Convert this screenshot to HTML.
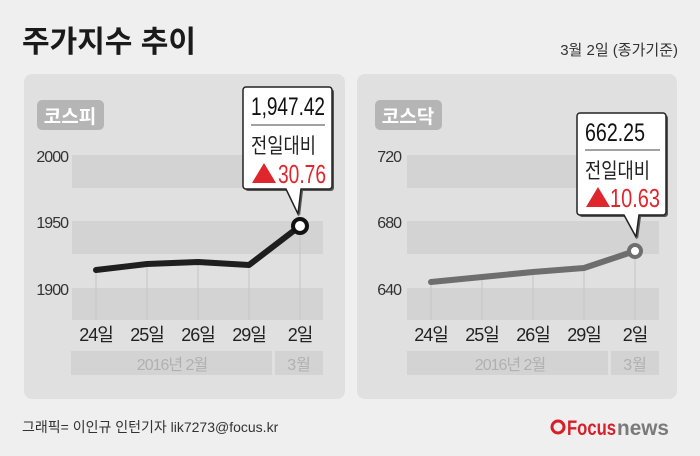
<!DOCTYPE html>
<html><head><meta charset="utf-8"><style>
body{margin:0;background:#efefef;}
svg text{font-family:"Liberation Sans","Noto Sans CJK KR",sans-serif;}
</style></head><body>
<svg width="700" height="451" viewBox="0 0 700 451" xmlns="http://www.w3.org/2000/svg">
<rect width="700" height="451" fill="#efefef"/>
<text x="22" y="52" font-size="30" font-weight="bold" fill="#1a1a1a">주가지수 추이</text>
<text x="678" y="55" font-size="15" fill="#333" text-anchor="end">3월 2일 (종가기준)</text>

<!-- panel 1 -->
<rect x="24" y="74" width="321" height="325" rx="8" fill="#e0e0e0"/>
<rect x="37" y="100" width="67" height="30" rx="5" fill="#b5b5b5"/>
<text x="70" y="123" font-size="19" font-weight="bold" fill="#fff" text-anchor="middle">코스피</text>
<g fill="#d3d3d3">
<rect x="72" y="155" width="251" height="33"/><rect x="72" y="221" width="251" height="33"/><rect x="72" y="288" width="251" height="32"/>
<rect x="71" y="351" width="201" height="24"/><rect x="275" y="351" width="48" height="24"/>
</g>
<g stroke="#c4c4c4" stroke-width="1"><line x1="96" y1="270" x2="96" y2="320"/><line x1="147" y1="264" x2="147" y2="320"/><line x1="198" y1="262" x2="198" y2="320"/><line x1="249" y1="265" x2="249" y2="320"/><line x1="300" y1="226" x2="300" y2="320"/></g>
<g font-size="16" fill="#333" text-anchor="end" letter-spacing="-1"><text x="68" y="162">2000</text><text x="68" y="228">1950</text><text x="68" y="295">1900</text></g>
<g font-size="18" fill="#222" text-anchor="middle" letter-spacing="-1"><text x="96" y="341">24일</text><text x="147" y="341">25일</text><text x="198" y="341">26일</text><text x="249" y="341">29일</text><text x="300" y="341">2일</text></g>
<text x="172" y="370" font-size="16" fill="#b0b0b0" text-anchor="middle" letter-spacing="-1">2016년 2월</text>
<text x="299" y="370" font-size="16" fill="#b0b0b0" text-anchor="middle">3월</text>
<polyline points="96,270 147,264 198,262 249,265 300,226" fill="none" stroke="#1e1e1e" stroke-width="6" stroke-linejoin="round" stroke-linecap="round"/>
<circle cx="300" cy="226" r="7" fill="#fff" stroke="#111" stroke-width="4"/>
<path d="M246,87 h83 a3,3 0 0 1 3,3 v96 a3,3 0 0 1 -3,3 h-28 l-3,25 l-12,-25 h-40 a3,3 0 0 1 -3,-3 v-96 a3,3 0 0 1 3,-3 z" fill="#555" transform="translate(2,2)"/>
<path d="M246,87 h83 a3,3 0 0 1 3,3 v96 a3,3 0 0 1 -3,3 h-28 l-3,25 l-12,-25 h-40 a3,3 0 0 1 -3,-3 v-96 a3,3 0 0 1 3,-3 z" fill="#fff" stroke="#222" stroke-width="1.5"/>
<text x="251" y="115" font-size="25" fill="#111" textLength="74" lengthAdjust="spacingAndGlyphs">1,947.42</text>
<line x1="251" y1="125" x2="325" y2="125" stroke="#444" stroke-width="1"/>
<text x="251" y="153" font-size="21" fill="#222" textLength="65" lengthAdjust="spacingAndGlyphs">전일대비</text>
<polygon points="252,183 264,163 276,183" fill="#e0262d"/>
<text x="278" y="183" font-size="26" fill="#e0262d" textLength="48" lengthAdjust="spacingAndGlyphs">30.76</text>

<!-- panel 2 -->
<rect x="357" y="74" width="320" height="325" rx="8" fill="#e0e0e0"/>
<rect x="375" y="100" width="67" height="30" rx="5" fill="#b5b5b5"/>
<text x="408" y="123" font-size="19" font-weight="bold" fill="#fff" text-anchor="middle">코스닥</text>
<g fill="#d3d3d3">
<rect x="407" y="155" width="252" height="33"/><rect x="407" y="221" width="252" height="33"/><rect x="407" y="288" width="252" height="32"/>
<rect x="407" y="351" width="201" height="24"/><rect x="611" y="351" width="48" height="24"/>
</g>
<g stroke="#c4c4c4" stroke-width="1"><line x1="431" y1="282" x2="431" y2="320"/><line x1="482" y1="276" x2="482" y2="320"/><line x1="533" y1="272" x2="533" y2="320"/><line x1="584" y1="268" x2="584" y2="320"/><line x1="635" y1="251" x2="635" y2="320"/></g>
<g font-size="16" fill="#333" text-anchor="end" letter-spacing="-1"><text x="401" y="162">720</text><text x="401" y="228">680</text><text x="401" y="295">640</text></g>
<g font-size="18" fill="#222" text-anchor="middle" letter-spacing="-1"><text x="431" y="341">24일</text><text x="482" y="341">25일</text><text x="533" y="341">26일</text><text x="584" y="341">29일</text><text x="635" y="341">2일</text></g>
<text x="510" y="370" font-size="16" fill="#b0b0b0" text-anchor="middle" letter-spacing="-1">2016년 2월</text>
<text x="635" y="370" font-size="16" fill="#b0b0b0" text-anchor="middle">3월</text>
<polyline points="431,282 482,277 533,272 584,268 635,251" fill="none" stroke="#6e6e6e" stroke-width="6" stroke-linejoin="round" stroke-linecap="round"/>
<circle cx="635" cy="251" r="6" fill="#fff" stroke="#6e6e6e" stroke-width="4"/>
<path d="M580,113 h83 a3,3 0 0 1 3,3 v96 a3,3 0 0 1 -3,3 h-24 l-3,22 l-12,-22 h-44 a3,3 0 0 1 -3,-3 v-96 a3,3 0 0 1 3,-3 z" fill="#555" transform="translate(2,2)"/>
<path d="M580,113 h83 a3,3 0 0 1 3,3 v96 a3,3 0 0 1 -3,3 h-24 l-3,22 l-12,-22 h-44 a3,3 0 0 1 -3,-3 v-96 a3,3 0 0 1 3,-3 z" fill="#fff" stroke="#222" stroke-width="1.5"/>
<text x="585" y="141" font-size="25" fill="#111" textLength="60" lengthAdjust="spacingAndGlyphs">662.25</text>
<line x1="585" y1="150" x2="660" y2="150" stroke="#444" stroke-width="1"/>
<text x="585" y="178" font-size="21" fill="#222" textLength="65" lengthAdjust="spacingAndGlyphs">전일대비</text>
<polygon points="586,207 598,187 610,207" fill="#e0262d"/>
<text x="610" y="207" font-size="26" fill="#e0262d" textLength="50" lengthAdjust="spacingAndGlyphs">10.63</text>

<text x="22" y="432" font-size="14" fill="#333">그래픽= 이인규 인턴기자 lik7273@focus.kr</text>
<circle cx="558" cy="427" r="6" fill="none" stroke="#d71f2a" stroke-width="3"/>
<text x="567" y="435" font-size="21" font-weight="bold" fill="#d71f2a" textLength="49" lengthAdjust="spacingAndGlyphs">Focus</text>
<text x="617" y="435" font-size="21" font-weight="bold" fill="#7a7a7a" textLength="52" lengthAdjust="spacingAndGlyphs">news</text>
</svg>
</body></html>
